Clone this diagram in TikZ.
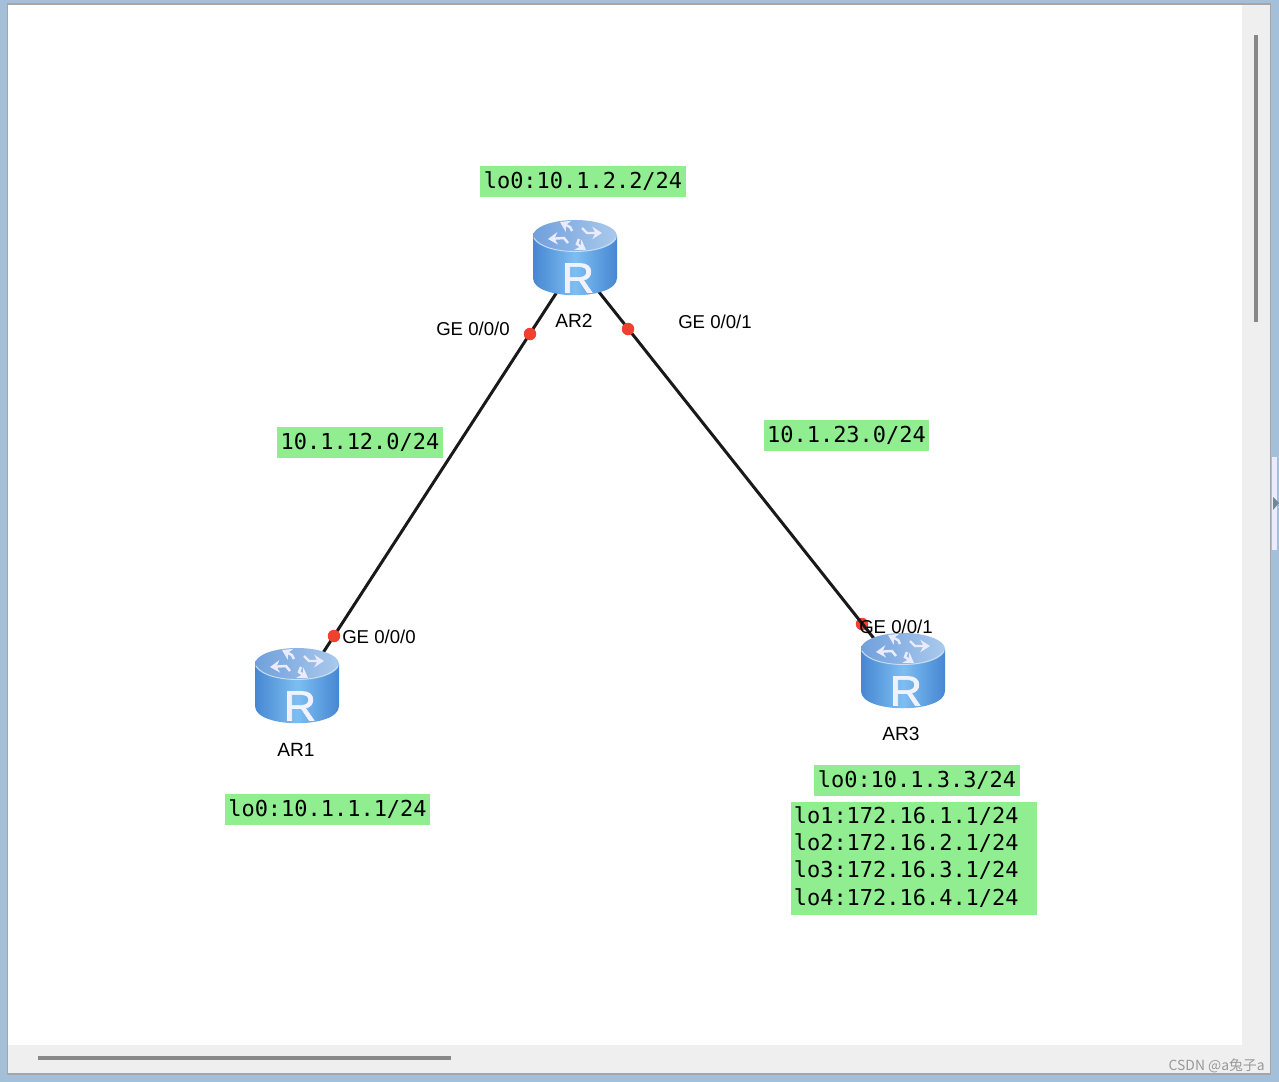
\documentclass[tikz,border=0pt]{standalone}
\usepackage{fontspec}
\setmainfont{Liberation Sans}
\newfontfamily\addrfont{DejaVu Sans Mono}
\newfontfamily\markfont{Noto Sans CJK SC}
\newfontfamily\badgefont[FakeBold=1.6]{Liberation Sans}
\usepackage{xcolor}
\usetikzlibrary{shapes,arrows.meta,positioning,calc}

\definecolor{frameblue}{RGB}{163,191,217}
\definecolor{panelgray}{RGB}{239,239,239}
\definecolor{thumbgray}{RGB}{136,136,136}
\definecolor{boxgreen}{RGB}{144,238,144}
\definecolor{portred}{RGB}{240,64,48}
\definecolor{bodydark}{RGB}{70,135,210}
\definecolor{bodylight}{RGB}{125,190,242}
\definecolor{topdark}{RGB}{112,160,220}
\definecolor{toplight}{RGB}{170,202,236}

\tikzset{
    router/.style={circle, inner sep=0pt, minimum size=1.2cm},
    routerart/.pic={
        % body, then top face
        \shade[left color=bodydark, right color=bodydark, middle color=bodylight]
            (-42,-22) -- (-42,20) .. controls (-42,43) and (42,43) .. (42,20) -- (42,-22) -- cycle;
        \shade[shading angle=40, left color=topdark, right color=toplight]
            (0,-22) ellipse [x radius=42, y radius=16];
        \draw[toplight!60!white, line width=0.5pt] (-41,-20) .. controls (-30,-2) and (30,-2) .. (41,-20);
        % four arrows on the top face
        \foreach \xa/\ya/\xb/\yb/\xc/\yc in {-3/-5/-5/-9/-15/-14, 7/-8/12/-3/27/-3, 4/3/2/8/11/14, -7/7/-11/2/-27/3} {
            \draw[white!92!blue, line width=1.4pt, line join=miter, -{Stealth[length=5.5pt,width=7pt]}]
                (\xa,-22+\ya) -- (\xb,-22+\yb) -- (\xc,-22+\yc);
        }
        \node[white!95!blue, font=\badgefont\fontsize{24}{24}\selectfont, inner sep=0pt] (-r) at (3,20) {\scalebox{1.06}[1]{R}};
    },
    link/.style={line width=1.7pt, black!90},
    port/.style={circle, fill=portred, inner sep=0pt, minimum size=0.25cm},
    portlabel/.style={font=\fontsize{10.6}{12}\selectfont, inner sep=0pt},
    routername/.style={font=\fontsize{10.9}{12}\selectfont, inner sep=0pt},
    addr/.style={fill=boxgreen, font=\addrfont\fontsize{12.5}{15.6}\selectfont, inner sep=0pt, minimum height=0.62cm},
    shortaddr/.style={addr, minimum width=4.12cm},
    netaddr/.style={addr, minimum width=3.32cm},
    panel/.style={fill=panelgray},
    thumb/.style={fill=thumbgray}
}

\begin{document}
\begin{tikzpicture}[x=0.02cm, y=-0.02cm]
\useasboundingbox (0,0) rectangle (1279,1082);

% window
\fill[frameblue] (0,0) rectangle (1279,1082);
\fill[black!35] (7,3) rectangle (1271,1075);
\fill[panel] (8,5) rectangle (1270,1073);
\fill[white] (8,5) rectangle (1242,1045);
\fill[thumb] (1254,35) rectangle (1258,322);
\fill[thumb] (38,1056) rectangle (451,1060);
\fill[blue!8!white] (1272,457) rectangle (1277,550);
\fill[frameblue!70!black] (1273,497) -- (1279,503) -- (1273,510) -- cycle;

% routers
\node[router] (ar1) at (297,686) {};
\node[router] (ar2) at (575,258) {};
\node[router] (ar3) at (903,671) {};

% port under the link at AR3
\node[port] (p31) at (862,624) {};

\draw[link] ($(ar1)+(4.5,0)$) -- ($(ar2)+(4,0)$);
\draw[link] ($(ar2)+(-3,0)$) -- ($(ar3)+(-4,-1)$);

\node[port] (p11) at (334,636) {};
\node[port] (p21) at (530,334) {};
\node[port] (p22) at (628,329) {};

\pic (art1) at (ar1) {routerart};
\pic (art2) at (ar2) {routerart};
\pic (art3) at (ar3) {routerart};

% labels
\node[routername] (n1) at (296,750) {AR1};
\node[routername] (n2) at (574,321) {AR2};
\node[routername] (n3) at (901,734) {AR3};
\node[portlabel] (l11) at (379,637) {GE 0/0/0};
\node[portlabel] (l21) at (473,329) {GE 0/0/0};
\node[portlabel] (l22) at (715,322) {GE 0/0/1};
\node[portlabel] (l31) at (896,627) {GE 0/0/1};

% addresses
\node[shortaddr] (a2) at (583,181.5) {lo0:10.1.2.2/24};
\node[shortaddr] (a1) at (327.5,809.5) {lo0:10.1.1.1/24};
\node[shortaddr] (a3) at (917,780.5) {lo0:10.1.3.3/24};
\node[netaddr] (n12) at (360,442) {10.1.12.0/24};
\node[netaddr] (n23) at (846.5,435.5) {10.1.23.0/24};
\node[addr, anchor=north west, align=left, text width=4.82cm, inner xsep=0.05cm, inner ysep=0.08cm] (a4) at (791,802)
    {lo1:172.16.1.1/24\\lo2:172.16.2.1/24\\lo3:172.16.3.1/24\\lo4:172.16.4.1/24\rule[-3.4pt]{0pt}{1pt}};

% watermark
\node[anchor=east, text=black!40, inner sep=0pt, font=\markfont\fontsize{7.9}{9}\selectfont] (wm) at (1265,1066) {CSDN @a兔子a};
\end{tikzpicture}
\end{document}
